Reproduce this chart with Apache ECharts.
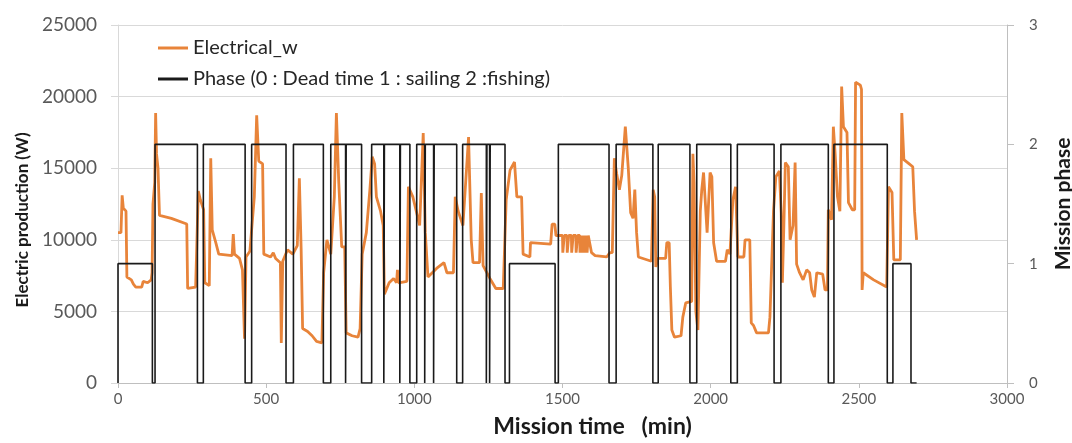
<!DOCTYPE html>
<html>
<head>
<meta charset="utf-8">
<script src="https://cdn.jsdelivr.net/npm/echarts@6/dist/echarts.min.js"></script>
<style>
  html, body { margin: 0; padding: 0; background: #ffffff; }
  #chart { width: 1072px; height: 443px; }
</style>
</head>
<body>
<div id="chart"></div>
<script>
// ---- data ----
const xTicks = [0, 500, 1000, 1500, 2000, 2500, 3000];
const leftTicks = [0, 5000, 10000, 15000, 20000, 25000];
const rightTicks = [0, 1, 2, 3];

// Electrical production (W) vs mission time (min)
const elecTimes = [
  0, 10, 14, 18, 27, 30, 45, 52, 60, 80, 85, 100, 112, 115, 118, 124, 127, 130, 135, 140, 180, 232, 235, 262, 268,
  271, 278, 289, 293, 308, 313, 318, 330, 340, 385, 389, 393, 410, 420, 427, 432, 445, 460, 468, 475, 488, 492,
  515, 524, 532, 548, 551, 556, 572, 590, 605, 612, 618, 623, 640, 655, 670, 688, 694, 705, 718, 730, 737, 745,
  755, 765, 770, 790, 810, 817, 824, 838, 850, 858, 866, 872, 886, 895, 899, 915, 930, 940, 943, 947, 975, 980,
  995, 1018, 1030, 1037, 1046, 1075, 1100, 1110, 1132, 1138, 1148, 1164, 1183, 1192, 1198, 1220, 1226, 1232,
  1255, 1275, 1300, 1310, 1323, 1338, 1346, 1362, 1367, 1390, 1392, 1460, 1465, 1474, 1478, 1486,
  1500, 1501, 1505, 1506, 1515, 1516, 1520, 1521, 1530, 1531, 1535, 1536, 1545, 1546, 1550, 1551,
  1558, 1559, 1562, 1563, 1566, 1567, 1570, 1571, 1574, 1575, 1578, 1579, 1582, 1583, 1586, 1587, 1592, 1598,
  1610, 1649, 1660, 1668, 1675, 1683, 1692, 1700, 1712, 1718, 1722, 1730, 1738, 1744, 1750, 1756, 1800, 1806,
  1811, 1815, 1822, 1848, 1852, 1860, 1864, 1869, 1878, 1900, 1906, 1916, 1936, 1940, 1944, 1950, 1957, 1965,
  1970, 1976, 1988, 1998, 2004, 2010, 2020, 2050, 2056, 2065, 2075, 2084, 2092, 2112, 2116, 2132, 2137, 2145,
  2155, 2195, 2200, 2206, 2212, 2220, 2232, 2238, 2242, 2247, 2252, 2262, 2268, 2278, 2285, 2290, 2300, 2312,
  2324, 2334, 2341, 2350, 2358, 2378, 2386, 2394, 2397, 2408, 2414, 2420, 2428, 2436, 2442, 2448, 2460, 2465,
  2478, 2486, 2489, 2505, 2509, 2511, 2515, 2550, 2594, 2600, 2612, 2618, 2640, 2645, 2652, 2670, 2682, 2688, 2695
];
const elecValues = [
  10500, 10500, 13100, 12200, 12000, 7400, 7200, 6900, 6700, 6700, 7100, 7000, 7200, 7700, 12500, 14000, 18850, 16000, 15000, 11700, 11500, 11100, 6600, 6700, 6800,
  13400, 12800, 12100, 7000, 6800, 15700, 10700, 9800, 9000, 8900, 10400, 9000, 8700, 7900, 3100, 8800, 9200, 13000, 18700, 15500, 15300, 9000,
  8800, 9100, 8700, 8400, 2800, 8500, 9300, 9000, 9600, 14300, 9400, 3800, 3600, 3300, 2900, 2800, 7700, 10000, 9000, 13000, 18850, 14000,
  9500, 9500, 3500, 3300, 3200, 3800, 9000, 10500, 13500, 15800, 15300, 13000, 12000, 11000, 6200, 7000, 7300, 7000, 7900, 7000, 7100, 13700,
  13000, 11000, 17460, 10500, 7400, 8000, 8400, 7700, 7700, 13000, 12000, 11000, 17180, 10000, 8400, 8400, 13270, 8200,
  7300, 6600, 6600, 12800, 14870, 15430, 13000, 13000, 9000, 8800, 9800, 9700, 11100, 11100, 10300, 10300,
  10300, 9100, 9100, 10300, 10300, 9100, 9100, 10300, 10300, 9100, 9100, 10300, 10300, 9100, 9100, 10300,
  10300, 9100, 9100, 10300, 10300, 9100, 9100, 10300, 10300, 9100, 9100, 10300, 10300, 9100, 9100, 10300, 10300, 9100,
  8900, 8800, 9100, 9100, 15700, 14600, 13500, 14500, 17900, 17900, 15000, 11900, 11500, 13500, 10500, 8800, 8500, 13500,
  13000, 8100, 8700, 8700, 9800, 9800, 6700, 3700, 3200, 3300, 4600, 5600, 5700, 16000, 14000, 5000, 3700, 12000,
  13500, 14700, 10500, 14700, 14400, 9800, 8500, 8500, 9300, 9000, 12800, 13700, 8800, 8800, 10000, 10000, 4200, 4000,
  3500, 3500, 4600, 4500, 12000, 14400, 14800, 11900, 7000, 11000, 15400, 15100, 10000, 11000, 15400, 8300, 7700, 7200,
  7900, 7700, 6500, 6000, 7700, 7600, 6500, 6500, 12100, 11400, 17900, 16000, 13000, 12000, 20700, 17900, 17500, 12600,
  12100, 12100, 21000, 20800, 20500, 6500, 7700, 7200, 6700, 13700, 13300, 8600, 8600, 18850, 15600, 15300, 15100, 12000, 10000
];

// Mission phase: value holds from each time until the next time
const phaseTimes = [
  0, 0, 116, 125, 268, 288, 429, 451, 567, 592, 693, 718, 768, 770, 822, 856, 897, 899, 951, 953,
  985, 1008, 1035, 1037, 1065, 1067, 1143, 1163, 1243, 1245, 1254, 1256, 1306, 1321, 1475, 1486,
  1657, 1681, 1805, 1823, 1930, 1953, 2068, 2090, 2214, 2237, 2397, 2416, 2596, 2615, 2676, 2695
];
const phaseValues = [
  0, 1, 0, 2, 0, 2, 0, 2, 0, 2, 0, 2, 0, 2, 0, 2, 0, 2, 0, 2,
  0, 2, 0, 2, 0, 2, 0, 2, 0, 2, 0, 2, 0, 1, 0, 2,
  0, 2, 0, 2, 0, 2, 0, 2, 0, 2, 0, 2, 0, 1, 0, 0
];

const elecData = elecTimes.map((t, i) => [t, elecValues[i]]);
const phaseData = phaseTimes.map((t, i) => [t, phaseValues[i]]);

const FONT = 'Lato';
const plain = v => String(v);
const chart = echarts.init(document.getElementById('chart'), null, { renderer: 'canvas' });
chart.setOption({
  animation: false,
  backgroundColor: '#ffffff',
  grid: { left: 118, right: 65, top: 25, bottom: 60, containLabel: false, outerBoundsMode: 'none' },
  legend: {
    orient: 'vertical',
    left: 153,
    top: 33,
    itemWidth: 30,
    itemHeight: 3,
    itemGap: 11,
    textStyle: { fontFamily: FONT, fontSize: 20, color: '#262626' },
    data: [
      { name: 'Electrical_w', icon: 'rect' },
      { name: 'Phase (0 : Dead time 1 : sailing 2 :fishing)', icon: 'rect' }
    ]
  },
  xAxis: {
    type: 'value',
    min: 0, max: 3000, interval: 500,
    name: 'Mission time   (min)',
    nameLocation: 'middle',
    nameGap: 32,
    nameTextStyle: { fontFamily: FONT, fontWeight: 'bold', fontSize: 23, color: '#1a1a1a', padding: [0, 0, 0, 60] },
    axisLine: { show: true, lineStyle: { color: '#bfbfbf', width: 1 } },
    axisTick: { show: true, length: 5, lineStyle: { color: '#bfbfbf' } },
    axisLabel: { fontFamily: FONT, fontSize: 15, color: '#595959', margin: 9, formatter: plain },
    splitLine: { show: false }
  },
  yAxis: [
    {
      type: 'value',
      min: 0, max: 25000, interval: 5000,
      name: 'Electric production (W)',
      nameLocation: 'middle',
      nameRotate: 90,
      nameGap: 86,
      nameTextStyle: { fontFamily: FONT, fontWeight: 'bold', fontSize: 17, color: '#1a1a1a', padding: [0, 32, 0, 0] },
      axisLine: { show: true, lineStyle: { color: '#d9d9d9', width: 1 } },
      axisTick: { show: true, length: 7, lineStyle: { color: '#d9d9d9' } },
      axisLabel: { fontFamily: FONT, fontSize: 19, color: '#595959', margin: 21, formatter: plain },
      splitLine: { show: true, lineStyle: { color: '#d9d9d9', width: 1 } }
    },
    {
      type: 'value',
      position: 'right',
      min: 0, max: 3, interval: 1,
      name: 'Mission phase',
      nameLocation: 'middle',
      nameRotate: 90,
      nameGap: 46,
      nameTextStyle: { fontFamily: FONT, fontWeight: 'bold', fontSize: 21, color: '#1a1a1a' },
      axisLine: { show: true, lineStyle: { color: '#bfbfbf', width: 1 } },
      axisTick: { show: true, length: 7, lineStyle: { color: '#bfbfbf' } },
      axisLabel: { fontFamily: FONT, fontSize: 15, color: '#595959', margin: 22, formatter: plain },
      splitLine: { show: false }
    }
  ],
  series: [
    {
      name: 'Electrical_w',
      type: 'line',
      yAxisIndex: 0,
      data: elecData,
      showSymbol: false,
      symbol: 'none',
      lineStyle: { color: '#E8843A', width: 2.8 },
      itemStyle: { color: '#E8843A' },
      z: 2
    },
    {
      name: 'Phase (0 : Dead time 1 : sailing 2 :fishing)',
      type: 'line',
      yAxisIndex: 1,
      step: 'end',
      data: phaseData,
      showSymbol: false,
      symbol: 'none',
      lineStyle: { color: '#1a1a1a', width: 1.6 },
      itemStyle: { color: '#1a1a1a' },
      z: 3
    }
  ]
});
</script>
</body>
</html>
